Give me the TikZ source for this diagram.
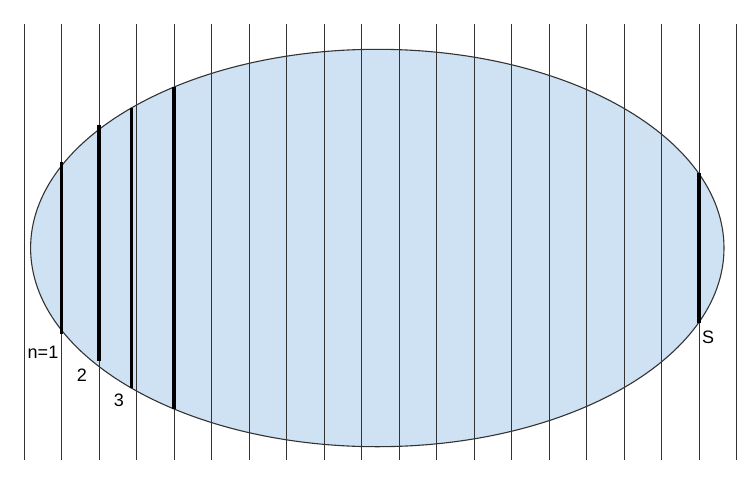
\documentclass[tikz,border=0pt]{standalone}
\usepackage{fontspec}
\setmainfont{Liberation Sans}
\definecolor{fillblue}{HTML}{CFE2F3}
\definecolor{linegray}{HTML}{333333}
\tikzset{
  thinline/.style={draw=linegray, line width=1pt},
  thickline/.style={draw=black, line width=3.4pt},
  lbl/.style={inner sep=0pt, font=\fontsize{18}{18}\selectfont}
}
\begin{document}
\begin{tikzpicture}[x=1pt,y=-1pt]
\useasboundingbox (0,0) rectangle (752,477);
\fill[fillblue] (377.3,248) ellipse [x radius=346.7, y radius=198.7];
\foreach \k in {0,...,19} {
  \draw[thinline] ({24+37.5*\k},24) -- ({24+37.5*\k},460);
}
\draw[linegray, line width=1.1pt] (377.3,248) ellipse [x radius=346.7, y radius=198.7];
\draw[thickline] (61.5,162) -- (61.5,334);
\draw[thickline] (99,125) -- (99,361);
\draw[thickline] (131.7,108) -- (131.7,388);
\draw[thickline] (174,87) -- (174,409);
\draw[thickline] (699,173) -- (699,323);
\node[lbl] (n1) at (43,352) {n=1};
\node[lbl] (n2) at (82,375) {2};
\node[lbl] (n3) at (119,400) {3};
\node[lbl] (nS) at (708,337) {S};
\end{tikzpicture}
\end{document}
